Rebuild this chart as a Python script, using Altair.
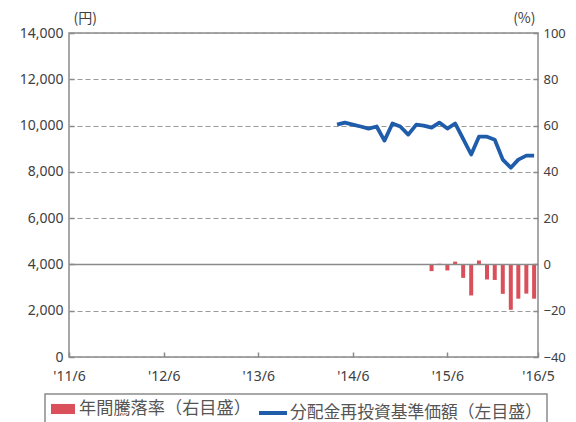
import altair as alt
import pandas as pd

# ---- data ----
nav_months = ["2014-04", "2014-05", "2014-06", "2014-07", "2014-08", "2014-09",
              "2014-10", "2014-11", "2014-12", "2015-01", "2015-02", "2015-03",
              "2015-04", "2015-05", "2015-06", "2015-07", "2015-08", "2015-09",
              "2015-10", "2015-11", "2015-12", "2016-01", "2016-02", "2016-03",
              "2016-04", "2016-05"]
nav_values = [10040, 10130, 10040, 9960, 9870, 9960, 9350, 10090, 9960, 9610,
              10040, 10000, 9910, 10130, 9870, 10090, 9420, 8750, 9520, 9520,
              9390, 8530, 8180, 8530, 8700, 8700]

ret_months = ["2015-04", "2015-05", "2015-06", "2015-07", "2015-08", "2015-09",
              "2015-10", "2015-11", "2015-12", "2016-01", "2016-02", "2016-03",
              "2016-04", "2016-05"]
ret_values = [-2.9, 0.3, -2.6, 1.2, -5.8, -13.4, 1.7, -6.5, -6.7, -12.7,
              -19.6, -14.8, -12.6, -14.8]

x_tick_dates = [(2011, 6, 1), (2012, 6, 1), (2013, 6, 1), (2014, 6, 1),
                (2015, 6, 1), (2016, 5, 16)]
x_domain = [(2011, 6, 1), (2016, 5, 16)]
left_ticks = [0, 2000, 4000, 6000, 8000, 10000, 12000, 14000]
right_ticks = [-40, -20, 0, 20, 40, 60, 80, 100]
bar_name = "年間騰落率（右目盛）"
line_name = "分配金再投資基準価額（左目盛）"
left_unit = "(円)"
right_unit = "(%)"

BLUE = "#1f5dab"
RED = "#d9505a"
GRAY = "#8a8a8a"
TXT = "#404040"
FONT = "Noto Sans"
CJK = "Noto Sans CJK JP"

nav_df = pd.DataFrame({"date": [m + "-01" for m in nav_months],
                       "nav": nav_values, "series": line_name})
ret_df = pd.DataFrame({"date": [m + "-01" for m in ret_months],
                       "ret": ret_values, "series": bar_name})
zero_df = pd.DataFrame({"ret": [0]})


def dt(t):
    return alt.DateTime(year=t[0], month=t[1], date=t[2])


x_enc = alt.X(
    "date:T",
    scale=alt.Scale(domain=[dt(d) for d in x_domain], padding=0, nice=False),
    axis=alt.Axis(values=[dt(d) for d in x_tick_dates], format="'%y/%-m",
                  domain=False, grid=False, offset=-5, tickSize=5,
                  tickColor=GRAY, tickWidth=1.5, labelPadding=12,
                  labelFlush=False, labelOverlap=False, labelBound=False,
                  labelFont=FONT, labelFontSize=14, labelColor=TXT,
                  title=None),
)

left_axis = alt.Axis(orient="left", values=left_ticks, format=",d",
                     grid=True, gridDash=[5, 3], gridColor="#9a9a9a",
                     domain=False, offset=-5, tickSize=5, tickColor=GRAY,
                     tickWidth=1.5, labelPadding=6, labelFont=FONT,
                     labelFontSize=14, labelColor=TXT,
                     labelFlush=False, labelOverlap=False,
                     title=left_unit, titleAngle=0, titleX=-1, titleY=-11,
                     titleAlign="left", titleBaseline="alphabetic",
                     titleFont=CJK, titleFontSize=14, titleFontWeight="normal",
                     titleColor=TXT)

right_axis = alt.Axis(orient="right", values=right_ticks, format="d",
                      grid=False, domain=False, offset=-5, tickSize=5,
                      tickColor=GRAY, tickWidth=1.5, labelPadding=5,
                      labelFont=FONT, labelFontSize=13, labelColor=TXT,
                      labelFlush=False, labelOverlap=False,
                      title=right_unit, titleAngle=0, titleX=2, titleY=-11,
                      titleAlign="right", titleBaseline="alphabetic",
                      titleFont=CJK, titleFontSize=14,
                      titleFontWeight="normal", titleColor=TXT)

right_scale = alt.Scale(domain=[-40, 100])

line = alt.Chart(nav_df).mark_line(strokeWidth=3.8, strokeJoin="round").encode(
    x=x_enc,
    y=alt.Y("nav:Q", scale=alt.Scale(domain=[0, 14000]), axis=left_axis),
    stroke=alt.Stroke(
        "series:N",
        scale=alt.Scale(domain=[line_name], range=[BLUE]),
        legend=alt.Legend(orient="none", legendX=188, legendY=364, title=None,
                          symbolType="stroke", symbolSize=784,
                          symbolStrokeWidth=4, padding=0, labelOffset=1,
                          labelFont=CJK, labelFontSize=16.8,
                          labelColor="#555555", labelLimit=400),
    ),
)

bars = alt.Chart(ret_df).mark_bar(size=4).encode(
    x=x_enc,
    y=alt.Y("ret:Q", scale=right_scale, axis=right_axis),
    color=alt.Color(
        "series:N",
        scale=alt.Scale(domain=[bar_name], range=[RED]),
        legend=alt.Legend(orient="none", legendX=-18, legendY=364, title=None,
                          symbolType="M-1,-0.42H1V0.42H-1Z", symbolSize=576,
                          symbolStrokeWidth=0, padding=0, labelOffset=4,
                          labelFont=CJK, labelFontSize=17.2,
                          labelColor="#555555", labelLimit=400),
    ),
)

zero_rule = alt.Chart(zero_df).mark_rule(color=GRAY, strokeWidth=1.5).encode(
    y=alt.Y("ret:Q", scale=right_scale, axis=right_axis),
)

legend_box = alt.Chart(zero_df).mark_rect(
    fillOpacity=0, stroke=GRAY, strokeWidth=1.5
).encode(x=alt.value(-24), x2=alt.value(478), y=alt.value(361),
         y2=alt.value(400))

right_layer = alt.layer(bars, zero_rule)

chart = (
    alt.layer(line, right_layer, legend_box)
    .resolve_scale(y="independent", color="independent", stroke="independent")
    .properties(width=469, height=324, autosize="none",
                padding={"left": 61, "top": 25, "right": 30, "bottom": 65},
                background="white")
    .configure_view(stroke=GRAY, strokeWidth=1.5)
)

chart.save("out.html", embed_options={"renderer": "svg", "actions": False})
